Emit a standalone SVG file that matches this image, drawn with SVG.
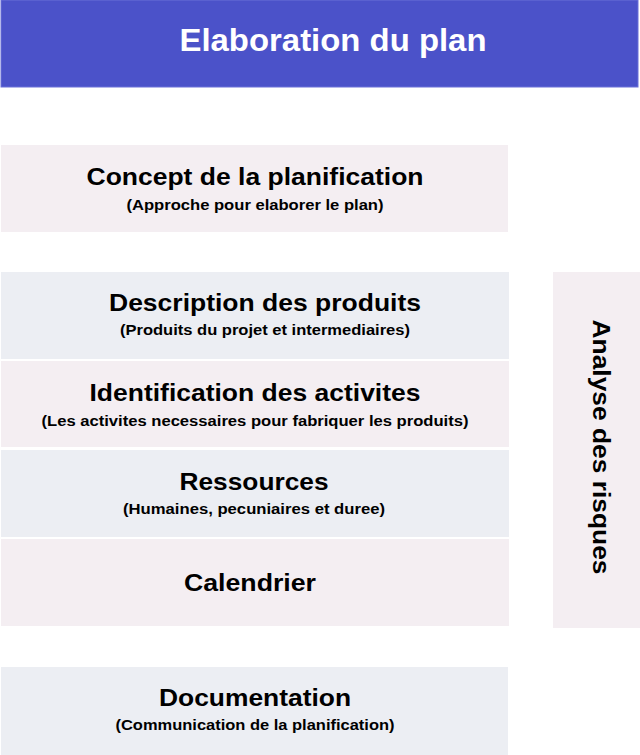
<svg xmlns="http://www.w3.org/2000/svg" width="640" height="755" viewBox="0 0 640 755">
<style>
.t{font-family:"Liberation Sans",Arial,sans-serif;font-weight:bold;text-anchor:middle;fill:#000}
.h{font-size:24px}
.s{font-size:14px}
.pink{fill:#f4eef2}
.blue{fill:#eceef3}
</style>
<rect width="640" height="755" fill="#ffffff"/>
<g id="header">
<rect x="1" y="0" width="637" height="87" fill="#4b52c9" stroke="#6a70d8" stroke-width="1"/>
<text x="333" y="51" class="t" style="font-size:31px;fill:#fff" textLength="307" lengthAdjust="spacingAndGlyphs">Elaboration du plan</text>
</g>
<g id="concept">
<rect x="1" y="145" width="507" height="87" class="pink"/>
<text x="255" y="185" class="t h" textLength="337" lengthAdjust="spacingAndGlyphs">Concept de la planification</text>
<text x="255" y="210" class="t s" textLength="257" lengthAdjust="spacingAndGlyphs">(Approche pour elaborer le plan)</text>
</g>
<g id="description">
<rect x="1" y="272" width="508" height="87" class="blue"/>
<text x="265" y="311" class="t h" textLength="312" lengthAdjust="spacingAndGlyphs">Description des produits</text>
<text x="265" y="335" class="t s" textLength="290" lengthAdjust="spacingAndGlyphs">(Produits du projet et intermediaires)</text>
</g>
<g id="identification">
<rect x="1" y="361" width="508" height="86" class="pink"/>
<text x="255" y="401" class="t h" textLength="331" lengthAdjust="spacingAndGlyphs">Identification des activites</text>
<text x="255" y="426" class="t s" textLength="427" lengthAdjust="spacingAndGlyphs">(Les activites necessaires pour fabriquer les produits)</text>
</g>
<g id="ressources">
<rect x="1" y="450" width="508" height="87" class="blue"/>
<text x="254" y="490" class="t h" textLength="149" lengthAdjust="spacingAndGlyphs">Ressources</text>
<text x="254" y="514" class="t s" textLength="262" lengthAdjust="spacingAndGlyphs">(Humaines, pecuniaires et duree)</text>
</g>
<g id="calendrier">
<rect x="1" y="539" width="508" height="87" class="pink"/>
<text x="250" y="591" class="t h" textLength="132" lengthAdjust="spacingAndGlyphs">Calendrier</text>
</g>
<g id="documentation">
<rect x="1" y="667" width="507" height="88" class="blue"/>
<text x="255" y="706" class="t h" textLength="192" lengthAdjust="spacingAndGlyphs">Documentation</text>
<text x="255" y="730" class="t s" textLength="279" lengthAdjust="spacingAndGlyphs">(Communication de la planification)</text>
</g>
<g id="analyse">
<rect x="553" y="272" width="87" height="356" class="pink"/>
<text x="0" y="0" class="t h" transform="translate(593,447) rotate(90)" textLength="255" lengthAdjust="spacingAndGlyphs">Analyse des risques</text>
</g>
<g id="connectors"></g>
</svg>
